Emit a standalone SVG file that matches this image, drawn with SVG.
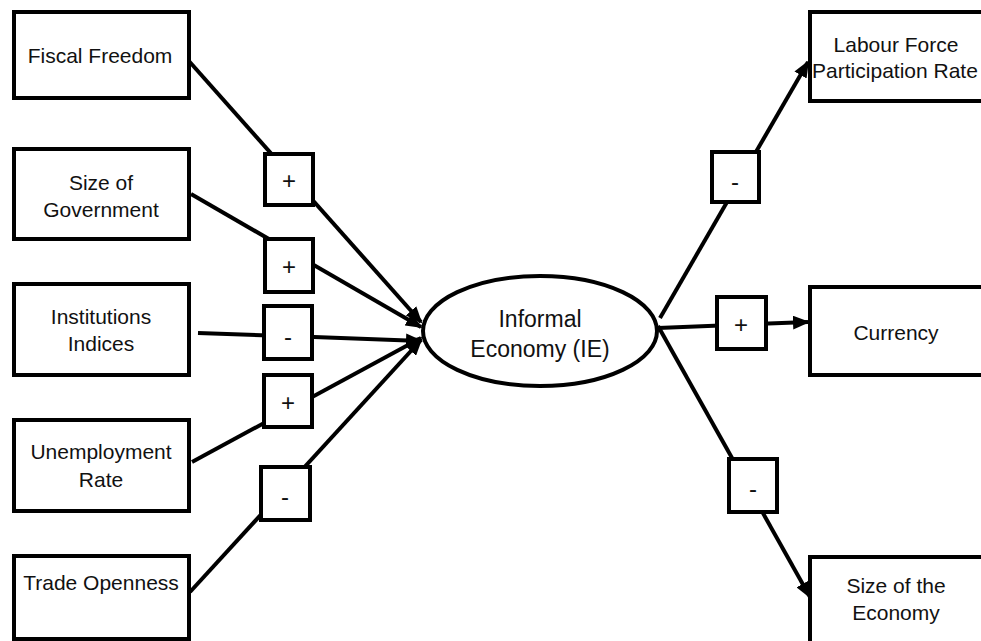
<svg xmlns="http://www.w3.org/2000/svg" width="981" height="641" viewBox="0 0 981 641">
<style>
.box{fill:#fff;stroke:#000;stroke-width:4}
.sign{fill:#fff;stroke:#000;stroke-width:4}
.lbl{font-family:"Liberation Sans",Arial,sans-serif;font-size:21px;fill:#111;text-anchor:middle}
.sg{font-family:"Liberation Sans",Arial,sans-serif;font-size:24px;fill:#111;text-anchor:middle}
.ln{stroke:#000;stroke-width:4;fill:none}
</style>
<defs>
<marker id="ah" markerUnits="userSpaceOnUse" markerWidth="18" markerHeight="14" refX="15" refY="7" orient="auto">
<path d="M0,0 L17,7 L0,14 z" fill="#000"/>
</marker>
</defs>
<rect width="981" height="641" fill="#fff"/>
<g id="connectors">
<line class="ln" x1="188" y1="60" x2="421" y2="322" marker-end="url(#ah)"/>
<line class="ln" x1="191" y1="194" x2="421" y2="327" marker-end="url(#ah)"/>
<polyline class="ln" points="198,333 314,337 421,341" marker-end="url(#ah)"/>
<line class="ln" x1="192" y1="462" x2="421" y2="338" marker-end="url(#ah)"/>
<line class="ln" x1="190" y1="592" x2="421" y2="340" marker-end="url(#ah)"/>
<line class="ln" x1="660" y1="318" x2="808" y2="62" marker-end="url(#ah)"/>
<line class="ln" x1="658" y1="328" x2="808" y2="322" marker-end="url(#ah)"/>
<line class="ln" x1="658" y1="326" x2="810" y2="597" marker-end="url(#ah)"/>
</g>
<g id="fiscal-freedom"><rect class="box" x="14" y="12" width="175" height="86"/><text class="lbl" x="100" y="63">Fiscal Freedom</text></g>
<g id="size-of-government"><rect class="box" x="14" y="149" width="175" height="90"/><text class="lbl" x="101" y="190">Size of</text><text class="lbl" x="101" y="217">Government</text></g>
<g id="institutions-indices"><rect class="box" x="14" y="284" width="175" height="91"/><text class="lbl" x="101" y="324">Institutions</text><text class="lbl" x="101" y="351">Indices</text></g>
<g id="unemployment-rate"><rect class="box" x="14" y="420" width="175" height="91"/><text class="lbl" x="101" y="459">Unemployment</text><text class="lbl" x="101" y="487">Rate</text></g>
<g id="trade-openness"><rect class="box" x="14" y="556" width="175" height="83"/><text class="lbl" x="101" y="590">Trade Openness</text></g>
<g id="sign-ff"><rect class="sign" x="265" y="154" width="48" height="51"/><text class="sg" x="289" y="189">+</text></g>
<g id="sign-sog"><rect class="sign" x="265" y="239" width="48" height="53"/><text class="sg" x="289" y="275">+</text></g>
<g id="sign-inst"><rect class="sign" x="264" y="306" width="48" height="53"/><text class="sg" x="288" y="345">-</text></g>
<g id="sign-unemp"><rect class="sign" x="264" y="375" width="48" height="52"/><text class="sg" x="288" y="411">+</text></g>
<g id="sign-trade"><rect class="sign" x="261" y="467" width="49" height="53"/><text class="sg" x="285" y="505">-</text></g>
<g id="informal-economy"><ellipse cx="540" cy="331" rx="117" ry="55" fill="#fff" stroke="#000" stroke-width="4"/><text class="lbl" x="540" y="327" style="font-size:23px">Informal</text><text class="lbl" x="540" y="357" style="font-size:23px">Economy (IE)</text></g>
<g id="sign-labour"><rect class="sign" x="712" y="152" width="47" height="50"/><text class="sg" x="735" y="190">-</text></g>
<g id="sign-currency"><rect class="sign" x="717" y="297" width="49" height="52"/><text class="sg" x="741" y="333">+</text></g>
<g id="sign-size"><rect class="sign" x="729" y="459" width="48" height="53"/><text class="sg" x="753" y="497">-</text></g>
<g id="labour-force"><rect class="box" x="810" y="12" width="180" height="89"/><text class="lbl" x="896" y="52">Labour Force</text><text class="lbl" x="895" y="78">Participation Rate</text></g>
<g id="currency"><rect class="box" x="810" y="287" width="180" height="88"/><text class="lbl" x="896" y="340">Currency</text></g>
<g id="size-of-economy"><rect class="box" x="810" y="557" width="180" height="90"/><text class="lbl" x="896" y="593">Size of the</text><text class="lbl" x="896" y="620">Economy</text></g>
</svg>
